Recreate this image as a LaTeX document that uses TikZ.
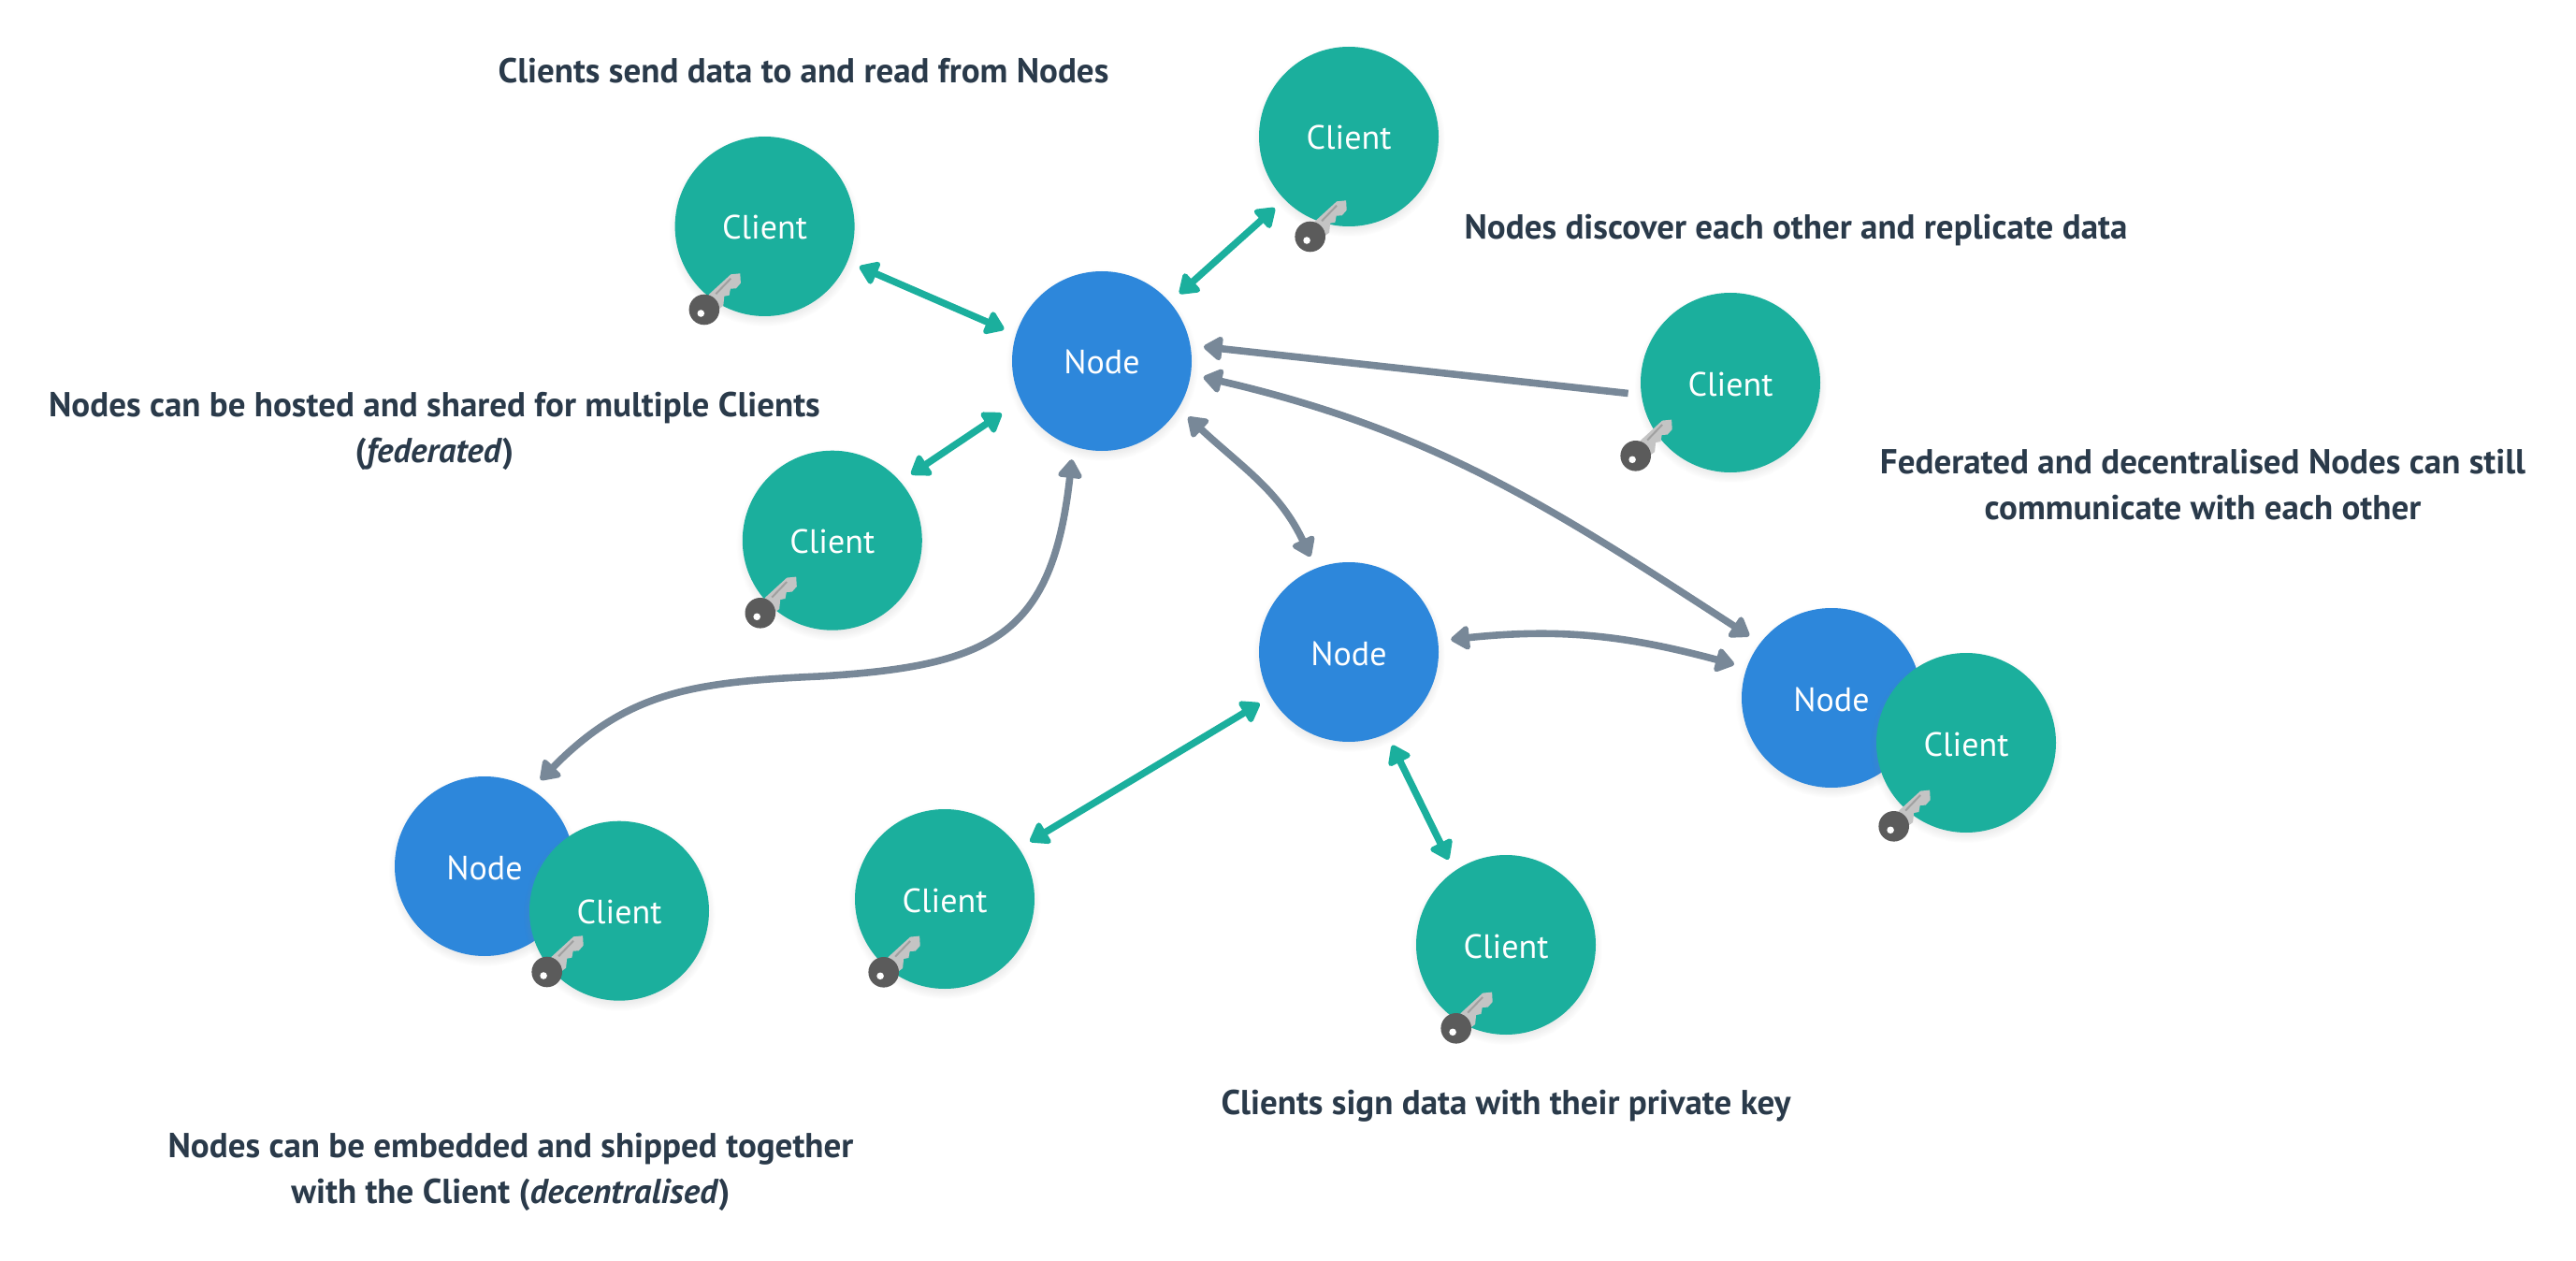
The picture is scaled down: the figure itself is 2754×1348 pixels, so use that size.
\documentclass[tikz,border=0pt]{standalone}
\usepackage{fontspec}
\setmainfont{PT Sans}
\usetikzlibrary{arrows.meta,shadows,fadings,calc}
\definecolor{clientc}{HTML}{1BAF9D}
\definecolor{nodec}{HTML}{2D87DB}
\definecolor{linkc}{HTML}{788898}
\definecolor{textc}{HTML}{2A3A4A}
\definecolor{keyc}{HTML}{C4C4C4}
\definecolor{keyd}{HTML}{A0A0A0}
\definecolor{keyh}{HTML}{5B5B5B}
\tikzset{
  headtip/.tip={Triangle[length=11pt,width=14.5pt,round]},
  round disc/.style={circle,minimum size=96pt,inner sep=0pt,outer sep=7pt,text=white,
    font=\fontsize{18}{18}\selectfont,text height=14pt,text depth=0pt,
    circular drop shadow={shadow xshift=0pt,shadow yshift=-2pt,shadow scale=1.07,opacity=.22}},
  client/.style={round disc,fill=clientc},
  server/.style={round disc,fill=nodec},
  tealline/.style={draw=clientc,line width=3.7pt,headtip-headtip},
  greyline/.style={draw=linkc,line width=3.8pt,headtip-headtip},
  greyone/.style={draw=linkc,line width=3.8pt,-headtip},
  caption/.style={text=textc,align=center,inner sep=0pt,font=\fontsize{18.5}{24.5}\selectfont\bfseries},
  pics/clientkey/.style={code={
    \fill[keyc] (4.7,-16) -- (28.4,-37.7) -- (38.4,-38.7) -- (39,-28.3) -- (34,-22.7) -- (28,-22.3) -- (26.7,-15.3) -- (21.4,-14.3) -- (20.4,-4.3) -- (14.7,0) -- cycle;
    \draw[keyd,line width=1pt] (12.4,-16.7) -- (28.4,-33.3);
    \fill[keyh] (0,0) circle[radius=8.15pt];
    \fill[white] (-3.6,4) circle[radius=1.9pt];
  }}
}
\begin{document}
\begin{tikzpicture}[x=.5pt,y=-.5pt]
\useasboundingbox (0,0) rectangle (2754,1348);
% nodes
\node[server] (n1) at (1178,386) {Node};
\node[server] (n2) at (1442,697) {Node};
\node[server] (n3) at (1958,746) {Node};
\node[server] (n4) at (518,926) {Node};
\node[client] (c1) at (817.6,242) {Client};
\node[client] (c2) at (1442,146) {Client};
\node[client] (c3) at (1850,409) {Client};
\node[client] (c4) at (889.8,577.7) {Client};
\node[client] (c5) at (2102,794) {Client};
\node[client] (c6) at (662,973.7) {Client};
\node[client] (c7) at (1010,961) {Client};
\node[client] (c8) at (1610,1010) {Client};
\pic at ($(c1)+(-64.7,89)$) {clientkey};
\pic at ($(c2)+(-41.3,107)$) {clientkey};
\pic at ($(c3)+(-101.3,78.3)$) {clientkey};
\pic at ($(c4)+(-77,77.6)$) {clientkey};
\pic at ($(c5)+(-77.3,89.3)$) {clientkey};
\pic at ($(c6)+(-77.3,65.3)$) {clientkey};
\pic at ($(c7)+(-65.3,78.3)$) {clientkey};
\pic at ($(c8)+(-53.3,89.3)$) {clientkey};
% connectors
\draw[tealline] (c1.-23) -- (n1.162.6);
\draw[tealline] (c2.224) -- (n1.41.7);
\draw[tealline,shorten >=5.5pt] (c4.40.4) -- (n1.207.4);
\draw[tealline] (c7.34.3) -- (n2.210);
\draw[tealline] (n2.-65.3) -- (c8.124);
\draw[greyone] (c3.186.4) -- (n1.8.9);
\draw[greyline] (n1.-9.4) to[out=-13,in=147] (n3.143);
\draw[greyline] (n1.-33.8) to[out=-43,in=115] (n2.112.8);
\draw[greyline] (n2.7.3) to[out=6,in=165] (n3.161);
\coordinate (sm) at (876,723);
\draw[greyline] (n1.253) .. controls (1125,680) and (1060,712) .. (sm) .. controls (740,729) and (670,740) .. (n4.57.7);
% captions
\node[caption] (t1) at (859,76) {Clients send data to and read from Nodes};
\node[caption] (t2) at (1920,246.5) {Nodes discover each other and replicate data};
\node[caption] (t3) at (464.5,460.5) {Nodes can be hosted and shared for multiple Clients\\(\textit{federated})};
\node[caption] (t4) at (2355,518) {Federated and decentralised Nodes can still\\communicate with each other};
\node[caption] (t5) at (1610,1182.5) {Clients sign data with their private key};
\node[caption] (t6) at (546,1253) {Nodes can be embedded and shipped together\\with the Client (\textit{decentralised})};
\end{tikzpicture}
\end{document}
